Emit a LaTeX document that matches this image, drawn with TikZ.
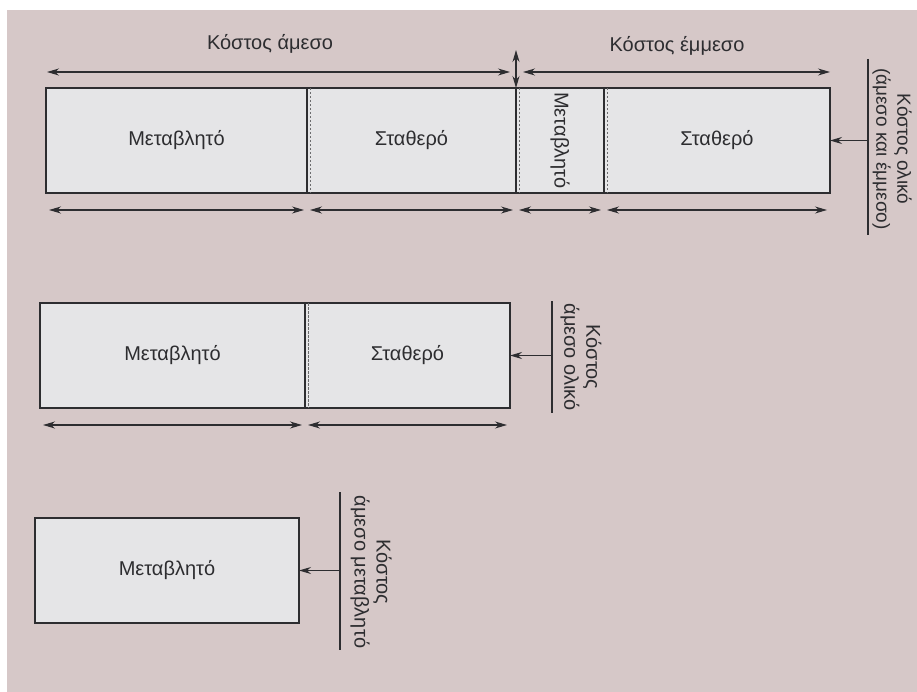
\documentclass[tikz,border=0pt]{standalone}
\usepackage{fontspec}
\setmainfont{Liberation Sans}
\usepackage{graphicx}
\usepackage{tikz}
\usetikzlibrary{arrows.meta,positioning}
\definecolor{scanpink}{RGB}{214,200,200}
\definecolor{boxgrey}{RGB}{229,229,231}
\definecolor{inkgrey}{RGB}{45,45,48}

\begin{document}
\begin{tikzpicture}[
    x=1pt, y=-1pt,
    costbox/.style={rectangle, draw=inkgrey, fill=boxgrey, line width=1.2pt,
        minimum height=105pt, inner sep=0pt, outer sep=0pt,
        font=\fontsize{20}{22}\selectfont, text=inkgrey},
    dimline/.style={<->, line width=1.1pt, draw=inkgrey, shorten <=3pt, shorten >=3pt},
    splitline/.style={draw=inkgrey!70, line width=0.8pt, dash pattern=on 2.5pt off 1.5pt},
    costlabel/.style={rotate=-90, align=center, inner sep=0pt,
        font=\fontsize{20}{22}\selectfont, text=inkgrey},
    toplabel/.style={font=\fontsize{20}{22}\selectfont, text=inkgrey},
    bar/.style={draw=inkgrey, line width=1.1pt},
    >={Stealth[length=12pt,width=7pt]}
]
\useasboundingbox (0,0) rectangle (917,692);
\fill[white] (0,0) rectangle (917,692);
\fill[scanpink] (7,10) rectangle (917,692);

% direct + indirect
\node[costbox, minimum width=261pt, anchor=north west] (var1) at (46,88) {Μεταβλητό};
\node[costbox, minimum width=209pt, right=0pt of var1] (fix1) {Σταθερό};
\node[costbox, minimum width=88pt, right=0pt of fix1] (var2) {\rotatebox{-90}{Μεταβλητό}};
\node[costbox, minimum width=226pt, right=0pt of var2] (fix2) {Σταθερό};

% direct only
\node[costbox, minimum width=265pt, anchor=north west] (var3) at (40,303) {Μεταβλητό};
\node[costbox, minimum width=205pt, right=0pt of var3] (fix3) {Σταθερό};

% direct variable
\node[costbox, minimum width=264pt, anchor=north west] (var4) at (35,518) {Μεταβλητό};

\foreach \b in {var1,fix1,var2,var3}
    \draw[splitline] ([xshift=3pt]\b.north east) -- ([xshift=3pt]\b.south east);

% widths
\foreach \b in {var1,fix1,var2,fix2}
    \draw[dimline] ([yshift=-17pt]\b.south west) -- ([yshift=-17pt]\b.south east);
\foreach \b in {var3,fix3}
    \draw[dimline] ([yshift=-17pt]\b.south west) -- ([yshift=-17pt]\b.south east);

\coordinate (dirL) at (47,72);
\coordinate (dirR) at (510,72);
\coordinate (indL) at (523,72);
\coordinate (indR) at (830,72);
\coordinate (sepT) at (516,50);
\draw[<->, line width=1.1pt, draw=inkgrey] (dirL) -- (dirR);
\draw[<->, line width=1.1pt, draw=inkgrey] (indL) -- (indR);
\draw[<->, line width=1.1pt, draw=inkgrey] (sepT) -- (var2.north west);

\node[toplabel] (dirtxt) at (270,44) {Κόστος άμεσο};
\node[toplabel] (indtxt) at (677,46) {Κόστος έμμεσο};

% totals
\coordinate (bar1) at (868,0);
\draw[bar] (868,59) -- (868,235);
\draw[->, line width=1.1pt, draw=inkgrey] (bar1 |- fix2.east) -- (fix2.east);
\node[costlabel, font=\fontsize{19}{21}\selectfont] (tot1) at (892,149) {Κόστος ολικό\\(άμεσο και έμμεσο)};

\coordinate (bar2) at (552,0);
\draw[bar] (552,301) -- (552,413);
\draw[->, line width=1.1pt, draw=inkgrey] (bar2 |- fix3.east) -- (fix3.east);
\node[costlabel] (tot2) at (581,357) {Κόστος\\άμεσο ολικό};

\coordinate (bar3) at (340,0);
\draw[bar] (340,492) -- (340,650);
\draw[->, line width=1.1pt, draw=inkgrey] (bar3 |- var4.east) -- (var4.east);
\node[costlabel] (tot3) at (371,572) {Κόστος\\άμεσο μεταβλητό};
\end{tikzpicture}
\end{document}
